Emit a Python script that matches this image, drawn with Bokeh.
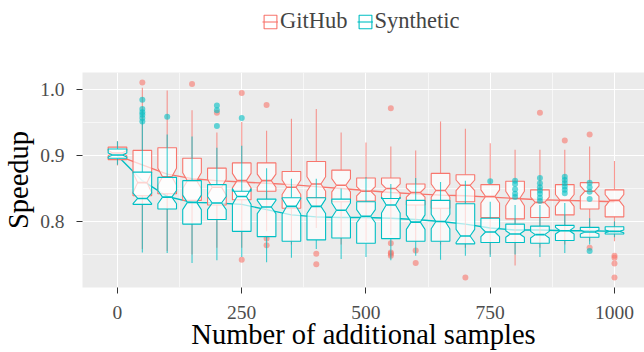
from bokeh.plotting import figure
from bokeh.layouts import column
from bokeh.models import (Range1d, FixedTicker, NumeralTickFormatter, Legend,
                          LegendItem)
from bokeh.embed import file_html
from bokeh.resources import INLINE

# ---------------- data ----------------
samples = [0, 50, 100, 150, 200, 250, 300, 350, 400, 450, 500,
           550, 600, 650, 700, 750, 800, 850, 900, 950, 1000]

gh_lower  = [0.885, 0.758, 0.755, 0.750, 0.760, 0.760, 0.785, 0.765, 0.790, 0.765, 0.770,
             0.780, 0.770, 0.765, 0.760, 0.750, 0.733, 0.760, 0.765, 0.770, 0.770]
gh_q1     = [0.894, 0.839, 0.842, 0.832, 0.825, 0.833, 0.846, 0.820, 0.836, 0.830, 0.831,
             0.835, 0.825, 0.820, 0.830, 0.806, 0.804, 0.806, 0.810, 0.819, 0.807]
gh_median = [0.904, 0.859, 0.868, 0.862, 0.852, 0.862, 0.862, 0.852, 0.857, 0.855, 0.846,
             0.850, 0.844, 0.847, 0.855, 0.838, 0.835, 0.829, 0.832, 0.846, 0.832]
gh_q3     = [0.913, 0.908, 0.912, 0.896, 0.881, 0.889, 0.889, 0.876, 0.891, 0.878, 0.866,
             0.866, 0.857, 0.873, 0.871, 0.856, 0.861, 0.848, 0.856, 0.859, 0.848]
gh_upper  = [0.922, 1.003, 0.999, 0.969, 0.935, 0.951, 0.938, 0.956, 0.971, 0.935, 0.920,
             0.914, 0.908, 0.952, 0.941, 0.919, 0.909, 0.909, 0.909, 0.914, 0.892]
gh_notch  = [0.004, 0.015, 0.013, 0.012, 0.012, 0.011, 0.010, 0.011, 0.011, 0.010, 0.007,
             0.007, 0.007, 0.010, 0.008, 0.010, 0.011, 0.008, 0.009, 0.008, 0.009]
gh_trend  = [0.900, 0.886, 0.872, 0.865, 0.862, 0.860, 0.858, 0.856, 0.853, 0.850, 0.847,
             0.844, 0.842, 0.840, 0.839, 0.837, 0.835, 0.833, 0.832, 0.831, 0.830]
gh_out_x  = [50, 150, 200, 250, 250, 300, 300, 300, 400, 400, 550, 550, 550, 550, 550,
             600, 600, 700, 850, 900, 950, 950, 1000, 1000, 1000, 1000]
gh_out_y  = [1.011, 1.009, 0.965, 0.995, 0.742, 0.977, 0.774, 0.764, 0.751, 0.735,
             0.972, 0.767, 0.753, 0.751, 0.748, 0.756, 0.737, 0.715, 0.965, 0.923,
             0.932, 0.760, 0.748, 0.745, 0.736, 0.715]

sy_lower  = [0.886, 0.753, 0.752, 0.737, 0.741, 0.746, 0.738, 0.745, 0.758, 0.743, 0.746,
             0.741, 0.748, 0.742, 0.748, 0.746, 0.750, 0.746, 0.752, 0.765, 0.776]
sy_q1     = [0.896, 0.826, 0.819, 0.796, 0.803, 0.785, 0.777, 0.770, 0.772, 0.775, 0.767,
             0.774, 0.770, 0.770, 0.766, 0.768, 0.768, 0.767, 0.771, 0.776, 0.781]
sy_median = [0.901, 0.835, 0.837, 0.829, 0.828, 0.838, 0.822, 0.823, 0.823, 0.817, 0.808,
             0.825, 0.799, 0.800, 0.778, 0.784, 0.781, 0.780, 0.786, 0.784, 0.785]
sy_q3     = [0.910, 0.875, 0.867, 0.862, 0.856, 0.846, 0.834, 0.836, 0.836, 0.834, 0.830,
             0.835, 0.832, 0.832, 0.827, 0.805, 0.796, 0.793, 0.794, 0.791, 0.792]
sy_upper  = [0.922, 0.953, 0.932, 0.929, 0.912, 0.915, 0.881, 0.865, 0.865, 0.850, 0.867,
             0.857, 0.866, 0.860, 0.862, 0.830, 0.825, 0.825, 0.828, 0.805, 0.800]
sy_notch  = [0.003, 0.008, 0.010, 0.011, 0.010, 0.012, 0.010, 0.012, 0.011, 0.011, 0.010,
             0.012, 0.011, 0.011, 0.010, 0.007, 0.005, 0.005, 0.005, 0.003, 0.002]
sy_trend  = [0.900, 0.862, 0.838, 0.829, 0.828, 0.826, 0.818, 0.810, 0.807, 0.806, 0.806,
             0.805, 0.803, 0.800, 0.796, 0.790, 0.787, 0.787, 0.786, 0.786, 0.785]
sy_out_x  = [50, 50, 50, 50, 50, 50, 100, 200, 200, 200, 250, 750,
             800, 800, 800, 800, 800, 850, 850, 850, 850, 850, 850, 850,
             900, 900, 900, 900, 900, 900, 950, 950, 950, 950, 950]
sy_out_y  = [0.985, 0.971, 0.966, 0.962, 0.957, 0.952, 0.959, 0.976, 0.969, 0.945,
             0.957, 0.861, 0.862, 0.857, 0.849, 0.842, 0.837, 0.866, 0.858, 0.852,
             0.847, 0.842, 0.836, 0.831, 0.868, 0.863, 0.858, 0.853, 0.848, 0.843,
             0.859, 0.852, 0.845, 0.834, 0.755]

x_ticks = [0, 250, 500, 750, 1000]
x_minor = [125, 375, 625, 875]
y_ticks = [0.8, 0.9, 1.0]
y_minor = [0.75, 0.85, 0.95]

series_names = ["GitHub", "Synthetic"]

# ---------------- style ----------------
RED = "#F8766D"
CYAN = "#00BFC4"
FONT = "Liberation Serif"
BOX_W = 37.5

p = figure(width=644, height=280, output_backend="svg", toolbar_location=None,
           x_range=Range1d(-70.4, 1060.4), y_range=Range1d(0.6997, 1.0263),
           min_border_left=82, min_border_right=0, min_border_top=0,
           min_border_bottom=65)
p.background_fill_color = "#EBEBEB"
p.border_fill_color = "white"
p.outline_line_color = None

xt = FixedTicker(ticks=x_ticks, minor_ticks=x_minor)
yt = FixedTicker(ticks=y_ticks, minor_ticks=y_minor)
p.xaxis.ticker = xt
p.yaxis.ticker = yt
p.xgrid.ticker = xt
p.ygrid.ticker = yt
for g in (p.xgrid, p.ygrid):
    g.grid_line_color = "white"
    g.grid_line_width = 1.1
    g.minor_grid_line_color = "white"
    g.minor_grid_line_width = 0.6

p.xaxis.formatter = NumeralTickFormatter(format="0")
p.yaxis.formatter = NumeralTickFormatter(format="0.0")
for ax in (p.xaxis, p.yaxis):
    ax.axis_line_color = None
    ax.major_tick_line_color = "#333333"
    ax.major_tick_in = 0
    ax.major_tick_out = 6
    ax.minor_tick_line_color = None
    ax.major_label_text_font = FONT
    ax.major_label_text_font_size = "19.5px"
    ax.major_label_text_color = "#4D4D4D"
    ax.axis_label_text_font = FONT
    ax.axis_label_text_font_size = "28.5px"
    ax.axis_label_text_font_style = "normal"
    ax.axis_label_text_color = "black"

p.xaxis.axis_label = "Number of additional samples"
p.yaxis.axis_label = "Speedup"
p.xaxis.major_label_standoff = 12
p.xaxis.axis_label_standoff = -3
p.yaxis.major_label_standoff = 12
p.yaxis.axis_label_standoff = 3


def notch_shapes(q1, med, q3, notch):
    xs, ys = [], []
    for x, a, m, b, n in zip(samples, q1, med, q3, notch):
        x0, x1 = x - BOX_W / 2, x + BOX_W / 2
        ind = BOX_W / 4
        xs.append([x0, x0, x0 + ind, x0, x0, x1, x1, x1 - ind, x1, x1])
        ys.append([b, m + n, m, m - n, a, a, m - n, m, m + n, b])
    return xs, ys


# key strip above the panel (holds the legend; its proxies lie outside its range)
leg = figure(width=644, height=72, output_backend="svg", toolbar_location=None,
             x_range=Range1d(0, 1), y_range=Range1d(5, 6), min_border=0,
             x_axis_location=None, y_axis_location=None)
leg.grid.visible = False
leg.outline_line_color = None
leg.background_fill_color = "white"
leg.border_fill_color = "white"

# trend lines (drawn first, boxes on top)
p.line(samples, gh_trend, line_color=RED, line_width=1.4)
p.line(samples, sy_trend, line_color=CYAN, line_width=1.4)

legend_items = []
for name, col, lo, q1, med, q3, up, nt, ox, oy in [
        (series_names[0], RED, gh_lower, gh_q1, gh_median, gh_q3, gh_upper, gh_notch, gh_out_x, gh_out_y),
        (series_names[1], CYAN, sy_lower, sy_q1, sy_median, sy_q3, sy_upper, sy_notch, sy_out_x, sy_out_y)]:
    p.segment(samples, q3, samples, up, line_color=col, line_width=1.1, line_alpha=0.75)
    p.segment(samples, q1, samples, lo, line_color=col, line_width=1.1, line_alpha=0.75)
    xs, ys = notch_shapes(q1, med, q3, nt)
    p.patches(xs, ys, fill_color="white", fill_alpha=0.68, line_color=col, line_width=1.1)
    p.segment([s - BOX_W / 4 for s in samples], med, [s + BOX_W / 4 for s in samples], med,
              line_color=col, line_width=1.6)
    p.scatter(ox, oy, size=6, fill_color=col, fill_alpha=0.6, line_color=None)
    # legend proxies in the key strip (same data, out of that strip's view)
    k_box = leg.patches(xs, ys, fill_color="white", fill_alpha=0.68, line_color=col, line_width=1.1)
    k_med = leg.segment(samples, med, samples, med, line_color=col, line_width=1.1)
    legend_items.append(LegendItem(label=name, renderers=[k_box, k_med]))

legend = Legend(items=legend_items, orientation="horizontal", location=(180, 38),
                margin=0, padding=0, spacing=9, label_standoff=2,
                glyph_width=16, glyph_height=17, label_height=17,
                label_text_font=FONT, label_text_font_size="22.5px",
                background_fill_alpha=0, border_line_color=None)
leg.add_layout(legend)

layout = column(leg, p, spacing=0)
open("out.html", "w").write(file_html(layout, INLINE))
